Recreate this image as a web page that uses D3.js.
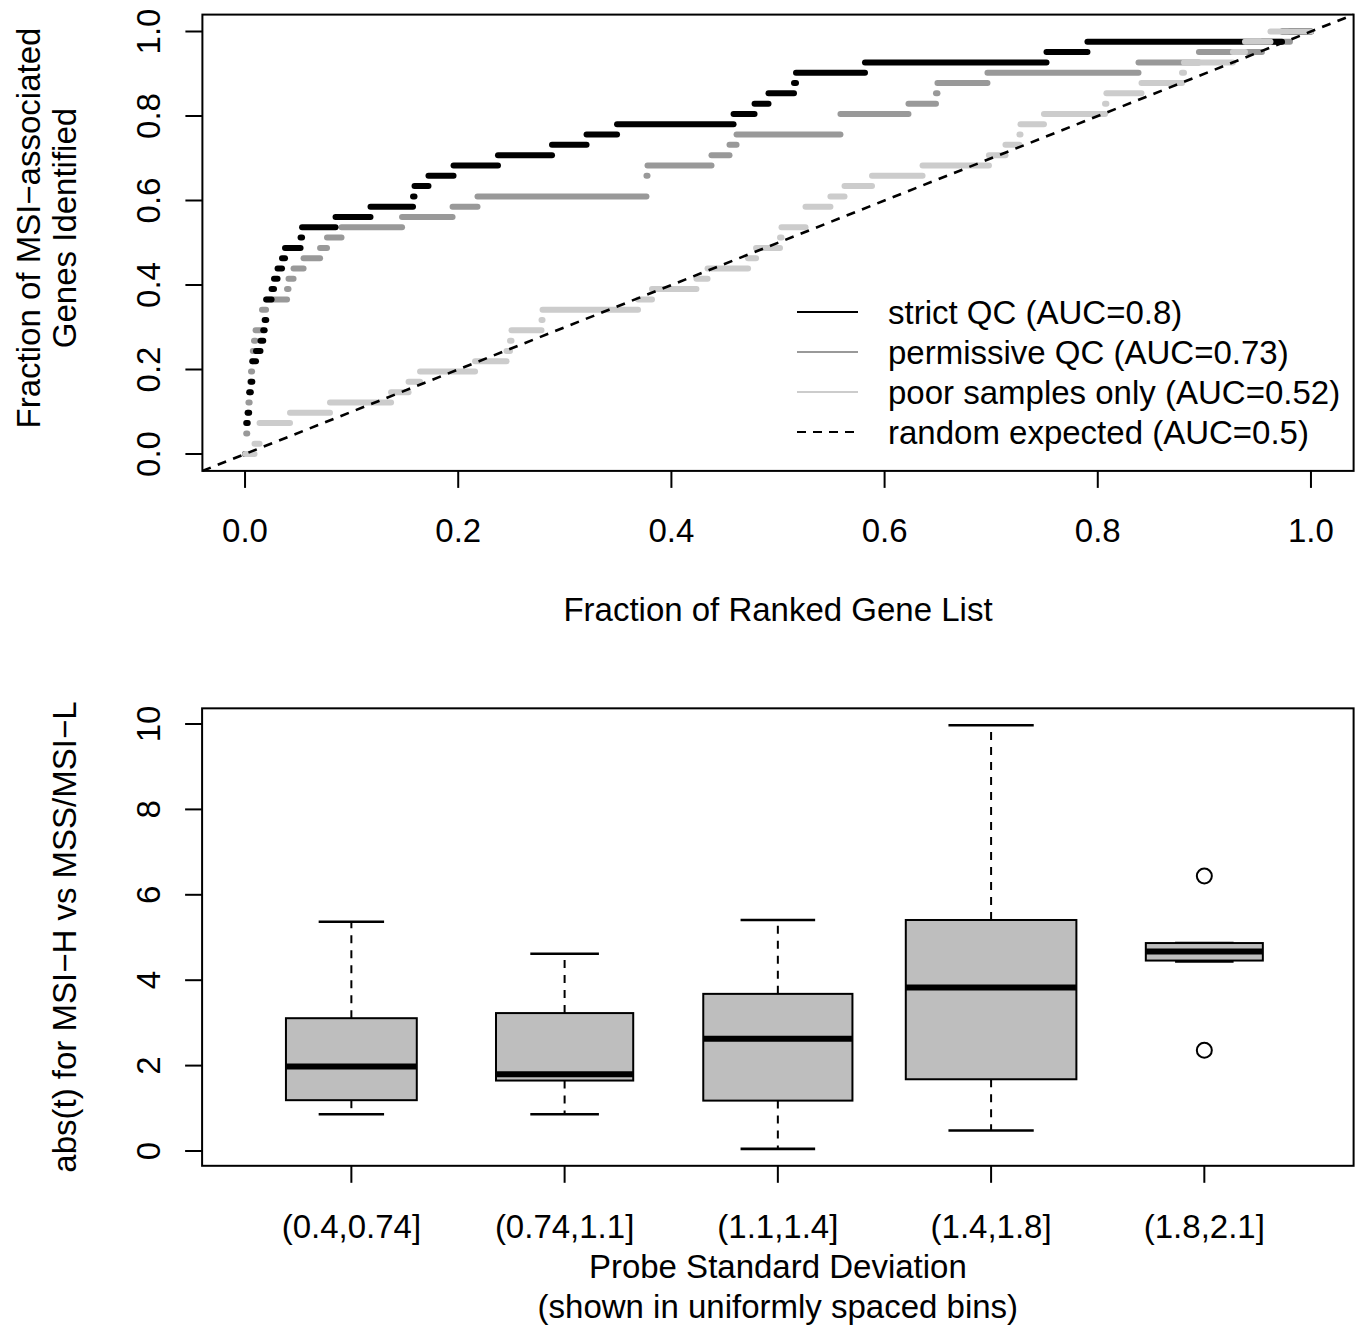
<!DOCTYPE html>
<html>
<head>
<meta charset="utf-8">
<script src="https://cdn.jsdelivr.net/npm/d3@7"></script>
<style>
  body { margin: 0; background: #fff; }
  svg { display: block; }
  text { font-family: "Liberation Sans", Arial, Helvetica, sans-serif; font-size: 33px; fill: #000; }
</style>
</head>
<body>
<svg id="chart" width="1360" height="1326"></svg>
<script>
// ---- Panel A: cumulative recovery of the 41 MSI-associated genes ----
// Fraction of the ranked gene list at which the k-th gene (k = 1..41) is reached.
// Repeated values mean several genes are picked up at the same sampled rank.
const strictHits = [0.0011, 0.0011, 0.0011, 0.0024, 0.0039, 0.0039, 0.0054, 0.0069, 0.0069, 0.0103,
  0.0145, 0.0171, 0.0184, 0.0199, 0.0199, 0.0249, 0.0272, 0.0305, 0.0347, 0.0375,
  0.0521, 0.0535, 0.0849, 0.1177, 0.1576, 0.1590, 0.1721, 0.1956, 0.2373, 0.2880,
  0.3204, 0.3490, 0.4583, 0.4780, 0.4911, 0.5150, 0.5169, 0.5816, 0.7519, 0.7903, 0.9728];
const permissiveHits = [0.0011, 0.0011, 0.0021, 0.0026, 0.0032, 0.0043, 0.0049, 0.0056, 0.0066, 0.0073,
  0.0084, 0.0099, 0.0159, 0.0159, 0.0197, 0.0394, 0.0408, 0.0455, 0.0549, 0.0704,
  0.0769, 0.0905, 0.1473, 0.1947, 0.2181, 0.3766, 0.3766, 0.3776, 0.4376, 0.4545,
  0.4611, 0.5586, 0.5586, 0.6224, 0.6482, 0.6496, 0.6965, 0.8382, 0.8949, 0.9540, 0.9803];
const poorHits = [0.0089, 0.0136, 0.0136, 0.0422, 0.0797, 0.1370, 0.1534, 0.1642, 0.2158, 0.2453,
  0.2486, 0.2500, 0.2781, 0.2791, 0.3687, 0.3818, 0.4235, 0.4339, 0.4719, 0.4794,
  0.5019, 0.5033, 0.5258, 0.5258, 0.5492, 0.5624, 0.5882, 0.6356, 0.6979, 0.7134,
  0.7265, 0.7275, 0.7495, 0.8068, 0.8081, 0.8410, 0.8790, 0.8809, 0.9268, 0.9381, 0.9620];
const curveLabels = ["strict QC (AUC=0.8)", "permissive QC (AUC=0.73)",
  "poor samples only (AUC=0.52)", "random expected (AUC=0.5)"];
const fractionTicks = [0, 0.2, 0.4, 0.6, 0.8, 1.0];

// ---- Panel B: |t| statistics by probe SD bin (box plot summaries) ----
const binLabels = ["(0.4,0.74]", "(0.74,1.1]", "(1.1,1.4]", "(1.4,1.8]", "(1.8,2.1]"];
const binCounts = [10, 11, 13, 17, 8];
const whiskerLow = [0.86, 0.86, 0.05, 0.48, 4.44];
const quartile1 = [1.19, 1.65, 1.18, 1.68, 4.46];
const medians = [1.98, 1.80, 2.63, 3.83, 4.67];
const quartile3 = [3.11, 3.23, 3.68, 5.41, 4.87];
const whiskerHigh = [5.37, 4.62, 5.41, 9.97, 4.87];
const outlierBin = [5, 5];
const outlierValue = [6.44, 2.36];
const tTicks = [0, 2, 4, 6, 8, 10];

const svg = d3.select("#chart");
const TICK = 17;

function frame(g, x0, x1, y0, y1) {
  g.append("rect").attr("x", x0).attr("y", y1).attr("width", x1 - x0).attr("height", y0 - y1)
    .attr("fill", "none").attr("stroke", "#000").attr("stroke-width", 2);
}

// ================= Panel A =================
const xA = d3.scaleLinear().domain([-0.04, 1.04]).range([202.4, 1353.6]);
const yA = d3.scaleLinear().domain([-0.04, 1.04]).range([470.9, 14.6]);
const gA = svg.append("g");

function stepSegments(hits) {
  const n = hits.length, segs = [];
  for (let k = 0; k <= n; k++) {
    const x0 = k === 0 ? 0 : hits[k - 1];
    const x1 = k === n ? 1 : hits[k];
    if (x1 > x0) segs.push({ x0, x1, y: k / n });
  }
  return segs;
}

const curves = [
  { hits: permissiveHits, color: "#999999" },
  { hits: strictHits, color: "#000000" },
  { hits: poorHits, color: "#cccccc" }
];
curves.forEach(c => {
  gA.append("g").selectAll("line").data(stepSegments(c.hits)).join("line")
    .attr("x1", d => xA(d.x0)).attr("x2", d => xA(d.x1))
    .attr("y1", d => yA(d.y)).attr("y2", d => yA(d.y))
    .attr("stroke", c.color).attr("stroke-width", 6).attr("stroke-linecap", "round");
});

// expected curve for a random ranking
gA.append("line")
  .attr("x1", xA(-0.04)).attr("y1", yA(-0.04)).attr("x2", xA(1.04)).attr("y2", yA(1.04))
  .attr("stroke", "#000").attr("stroke-width", 2.6).attr("stroke-dasharray", "9,7.5");

frame(gA, xA(-0.04), xA(1.04), yA(-0.04), yA(1.04));

// axes
fractionTicks.forEach(v => {
  gA.append("line").attr("x1", xA(v)).attr("x2", xA(v))
    .attr("y1", yA(-0.04)).attr("y2", yA(-0.04) + TICK).attr("stroke", "#000").attr("stroke-width", 2);
  gA.append("text").attr("x", xA(v)).attr("y", 542).attr("text-anchor", "middle")
    .text(d3.format(".1f")(v));
  gA.append("line").attr("x1", xA(-0.04)).attr("x2", xA(-0.04) - TICK)
    .attr("y1", yA(v)).attr("y2", yA(v)).attr("stroke", "#000").attr("stroke-width", 2);
  gA.append("text").attr("transform", `translate(160,${yA(v)}) rotate(-90)`)
    .attr("text-anchor", "middle").text(d3.format(".1f")(v));
});
gA.append("text").attr("x", (xA(-0.04) + xA(1.04)) / 2).attr("y", 621)
  .attr("text-anchor", "middle").text("Fraction of Ranked Gene List");
gA.append("text").attr("transform", "translate(40,228) rotate(-90)")
  .attr("text-anchor", "middle").text("Fraction of MSI\u2212associated");
gA.append("text").attr("transform", "translate(76,228) rotate(-90)")
  .attr("text-anchor", "middle").text("Genes Identified");

// legend
const legendColors = ["#000000", "#999999", "#cccccc", "#000000"];
curveLabels.forEach((lab, i) => {
  const ly = 312 + i * 40;
  gA.append("line").attr("x1", 797).attr("x2", 858).attr("y1", ly).attr("y2", ly)
    .attr("stroke", legendColors[i]).attr("stroke-width", 2.2)
    .attr("stroke-dasharray", i === 3 ? "9,7" : null);
  gA.append("text").attr("x", 888).attr("y", ly + 11.5).text(lab);
});

// ================= Panel B =================
const tLo = d3.min([...whiskerLow, ...outlierValue]);
const tHi = d3.max([...whiskerHigh, ...outlierValue]);
const pad = 0.04 * (tHi - tLo);
const xB = d3.scaleLinear().domain([0.3, 5.7]).range([202.1, 1353.6]);
const yB = d3.scaleLinear().domain([0, 10]).range([1151, 724]);
const gB = svg.append("g");
const unitPx = xB(2) - xB(1);
const maxN = d3.max(binCounts);

binLabels.forEach((lab, i) => {
  const cx = xB(i + 1);
  const w = 0.8 * Math.sqrt(binCounts[i] / maxN) * unitPx;
  // whiskers
  gB.append("line").attr("x1", cx).attr("x2", cx).attr("y1", yB(quartile3[i])).attr("y2", yB(whiskerHigh[i]))
    .attr("stroke", "#000").attr("stroke-width", 2).attr("stroke-dasharray", "8,7");
  gB.append("line").attr("x1", cx).attr("x2", cx).attr("y1", yB(quartile1[i])).attr("y2", yB(whiskerLow[i]))
    .attr("stroke", "#000").attr("stroke-width", 2).attr("stroke-dasharray", "8,7");
  // staples
  [whiskerLow[i], whiskerHigh[i]].forEach(v => {
    gB.append("line").attr("x1", cx - w / 4).attr("x2", cx + w / 4).attr("y1", yB(v)).attr("y2", yB(v))
      .attr("stroke", "#000").attr("stroke-width", 2.6);
  });
  // box
  gB.append("rect").attr("x", cx - w / 2).attr("width", w)
    .attr("y", yB(quartile3[i])).attr("height", yB(quartile1[i]) - yB(quartile3[i]))
    .attr("fill", "#bebebe").attr("stroke", "#000").attr("stroke-width", 2);
  // median
  gB.append("line").attr("x1", cx - w / 2).attr("x2", cx + w / 2)
    .attr("y1", yB(medians[i])).attr("y2", yB(medians[i]))
    .attr("stroke", "#000").attr("stroke-width", 6);
  // x tick + label
  gB.append("line").attr("x1", cx).attr("x2", cx).attr("y1", yB(tLo - pad)).attr("y2", yB(tLo - pad) + TICK)
    .attr("stroke", "#000").attr("stroke-width", 2);
  gB.append("text").attr("x", cx).attr("y", 1238).attr("text-anchor", "middle").text(lab);
});

// outliers
gB.selectAll("circle.out").data(outlierValue).join("circle").attr("class", "out")
  .attr("cx", (d, j) => xB(outlierBin[j])).attr("cy", d => yB(d)).attr("r", 7.5)
  .attr("fill", "none").attr("stroke", "#000").attr("stroke-width", 2);

frame(gB, xB(0.3), xB(5.7), yB(tLo - pad), yB(tHi + pad));

tTicks.forEach(v => {
  gB.append("line").attr("x1", xB(0.3)).attr("x2", xB(0.3) - TICK)
    .attr("y1", yB(v)).attr("y2", yB(v)).attr("stroke", "#000").attr("stroke-width", 2);
  gB.append("text").attr("transform", `translate(160,${yB(v)}) rotate(-90)`)
    .attr("text-anchor", "middle").text(v);
});
gB.append("text").attr("x", (xB(0.3) + xB(5.7)) / 2).attr("y", 1278)
  .attr("text-anchor", "middle").text("Probe Standard Deviation");
gB.append("text").attr("x", (xB(0.3) + xB(5.7)) / 2).attr("y", 1318)
  .attr("text-anchor", "middle").text("(shown in uniformly spaced bins)");
gB.append("text").attr("transform", `translate(76,${(yB(tLo - pad) + yB(tHi + pad)) / 2}) rotate(-90)`)
  .attr("text-anchor", "middle").text("abs(t) for MSI\u2212H vs MSS/MSI\u2212L");
</script>
</body>
</html>
